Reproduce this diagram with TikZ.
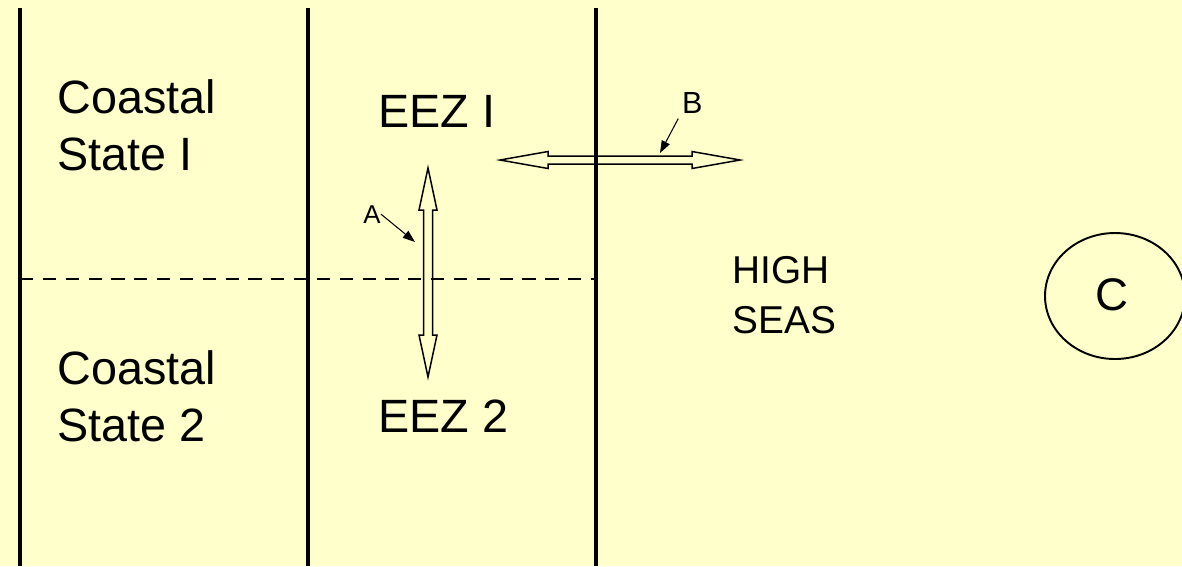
\documentclass[tikz,border=0pt]{standalone}
\usepackage{fontspec}
\setmainfont{Liberation Sans}
\usepackage{tikz}
\usetikzlibrary{arrows.meta,positioning}
\usepackage{xcolor}
\definecolor{SlidePale}{RGB}{255,255,204}

\tikzset{
  zonetext/.style={anchor=base west,inner sep=0pt,align=left,
                   font=\fontsize{26.6}{32.3}\selectfont},
  seatext/.style={anchor=base west,inner sep=0pt,align=left,
                  font=\fontsize{22.1}{28.3}\selectfont},
  border/.style={line width=2pt},
  flowarrow/.style={line width=0.85pt,line join=miter},
  pointer/.style={line width=0.6pt,-{Triangle[length=7pt,width=5pt]}}
}

\begin{document}
\begin{tikzpicture}[x=0.02cm,y=-0.02cm]
\fill[SlidePale] (0,0) rectangle (1182,566);
\useasboundingbox (0,0) rectangle (1182,566);
\clip (0,0) rectangle (1182,566);
% boundaries between the zones
\draw[border] (20,8) -- (20,566);
\draw[border] (308,8) -- (308,566);
\draw[border] (596,8) -- (596,566);
\draw[line width=1.4pt,dash pattern=on 7.5pt off 5.5pt] (20,279) -- (596,279);
% zone names (base = last line)
\node[zonetext] (cs1) at (57,170) {Coastal\\State I};
\node[zonetext] (cs2) at (57,441) {Coastal\\State 2};
\node[zonetext] (eez1) at (378,127) {EEZ I};
\node[zonetext] (eez2) at (378,432) {EEZ 2};
\node[seatext] (high) at (732,333) {HIGH\\SEAS};
% movement between the zones
\draw[flowarrow] (428,168) -- (437,210) -- (432.5,210) -- (432.5,335) -- (437,335)
  -- (428,377) -- (419,335) -- (423.5,335) -- (423.5,210) -- (419,210) -- cycle;
\draw[flowarrow] (500,160) -- (548,151.5) -- (548,156) -- (692,156) -- (692,151.5)
  -- (740,160) -- (692,168.5) -- (692,164) -- (548,164) -- (548,168.5) -- cycle;
\node[anchor=base west,inner sep=0pt,font=\fontsize{14.7}{17}\selectfont] (lblA) at (363,223) {A};
\node[anchor=base west,inner sep=1pt,font=\fontsize{17.4}{20}\selectfont] (lblB) at (680,113) {B};
\coordinate (tipA) at (415,242);
\coordinate (tipB) at (660,153);
\draw[pointer] (lblA.east) -- (tipA);
\draw[pointer] ([xshift=-1pt,yshift=-2pt]lblB.south west) -- (tipB);
% the third case
\draw[line width=1.1pt] (1115,296) ellipse [x radius=70,y radius=63];
\node[font=\fontsize{26}{30}\selectfont] (caseC) at (1112,295) {C};
\end{tikzpicture}
\end{document}
